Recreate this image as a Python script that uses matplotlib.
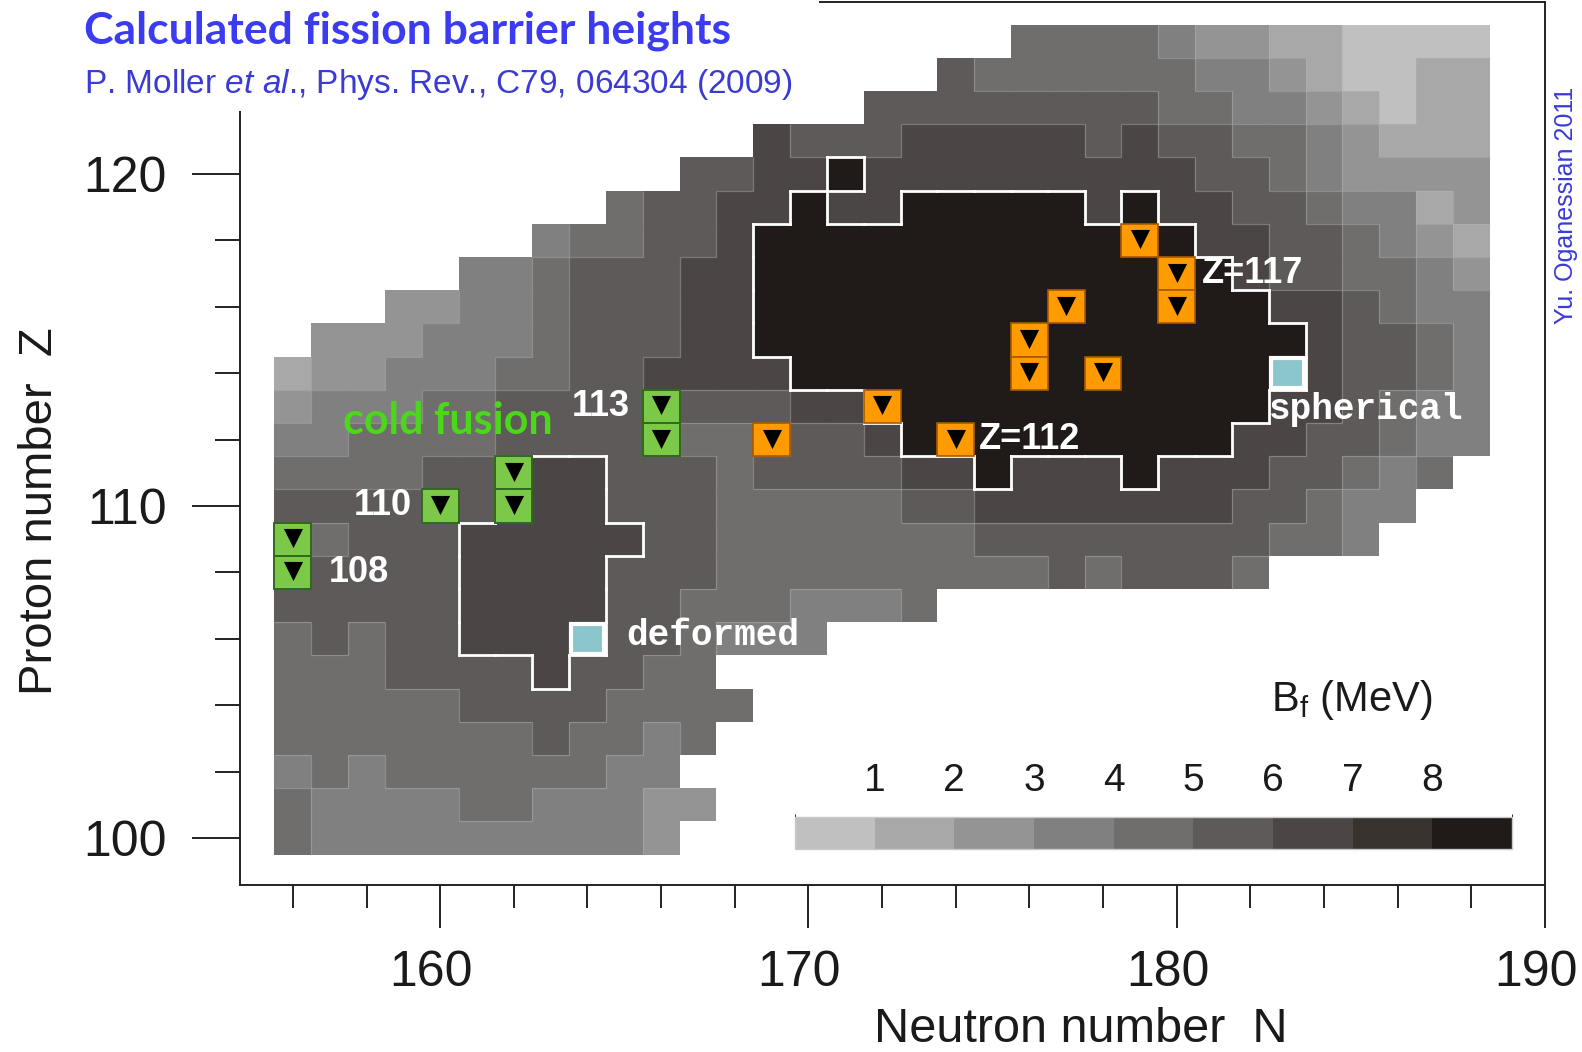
import numpy as np
import matplotlib
matplotlib.use('Agg')
import matplotlib.pyplot as plt
import matplotlib.transforms as mtransforms
from matplotlib.colors import ListedColormap, BoundaryNorm
from matplotlib.collections import LineCollection
from matplotlib.patches import Rectangle

plt.rcParams['font.family'] = ['Liberation Sans', 'DejaVu Sans']
plt.rcParams['mathtext.fontset'] = 'custom'
plt.rcParams['mathtext.rm'] = 'Liberation Sans'
plt.rcParams['mathtext.it'] = 'Liberation Sans:italic'

# grid of nuclei: N = 156..188, Z = 124 (first row) .. 100 (last row)
neutrons = np.arange(156, 189)
protons = np.arange(124, 99, -1)

# barrier height bin per nucleus: k means B_f in [k, k+1) MeV, '.' = no value
barrier_bins = [
    "...................." "4444322110000",
    ".................." "544444433210011",
    "................" "55555555443321011",
    "............." "65556666656554432111",
    "..........." "5566866666666655432222",
    "........." "455668668888868665543312",
    "......." "34455688888888888866554321",
    "....." "33455566" "8888888888888" "6554432",
    "..." "2233455566" "88888888888888" "665433",
    "." "222333455566" "888888888888888" "65543",
    "12233344556666" "88888888888888" "65543",
    "2333445555555566" "88888888888" "665433",
    "33444455555444556" "888888888" "6655433",
    "44445566655545555668666866655434" ".",
    "5555556665554444455666666655433" "..",
    "545556666655444444455555555443" "...",
    "555556666555444444444545554" "......",
    "555556666554443334" "...............",
    "454556666554333" "..................",
    "444555565544" ".....................",
    "4444455554444" "....................",
    "444444454434" ".....................",
    "34344444433" "......................",
    "433334433322" ".....................",
    "43333333332" "......................",
]

shade_colors = ['#c0c0c0', '#a8a8a8', '#949494', '#808080', '#6f6e6d',
                '#5e5a59', '#4b4645', '#38322f', '#201b19']
bar_ticks = [1, 2, 3, 4, 5, 6, 7, 8]

# measured / proposed nuclei
hot_n = [179, 180, 180, 177, 176, 176, 178, 172, 169, 174]
hot_z = [118, 117, 116, 116, 115, 114, 114, 113, 112, 112]
cold_n = [166, 166, 162, 162, 160, 156, 156]
cold_z = [113, 112, 111, 110, 110, 109, 108]
shape_n = [183, 164]
shape_z = [114, 106]

bins = np.full((len(protons), len(neutrons)), np.nan)
for i, row in enumerate(barrier_bins):
    for j, ch in enumerate(row):
        if ch != '.':
            bins[i, j] = int(ch)
bf = bins + 0.5

fig = plt.figure(figsize=(15.82, 10.52), dpi=100)
ax = fig.add_axes([240 / 1582, 1 - 885 / 1052, 1305 / 1582, 883.5 / 1052])

cmap = ListedColormap(shade_colors)
norm = BoundaryNorm(np.arange(0, 10), cmap.N)
n_edges = np.append(neutrons - 0.5, neutrons[-1] + 0.5)
z_edges = np.append(protons[::-1] - 0.5, protons[0] + 0.5)
mesh = ax.pcolormesh(n_edges, z_edges, bf[::-1], cmap=cmap, norm=norm)

# thin light lines where the shade changes, white outline around
# the deep-barrier island and the deformed island
NN, ZZ = np.meshgrid(neutrons, protons)
island = (bins == 8) | ((bins == 6) & (NN <= 165) & (ZZ <= 111))
valid = ~np.isnan(bins)

grey_segs, white_segs = [], []
rows, cols = bins.shape
for i in range(rows):
    for j in range(cols):
        n, z = neutrons[j], protons[i]
        if j + 1 < cols and valid[i, j] and valid[i, j + 1] and bins[i, j] != bins[i, j + 1]:
            grey_segs.append([(n + 0.5, z - 0.5), (n + 0.5, z + 0.5)])
        if i + 1 < rows and valid[i, j] and valid[i + 1, j] and bins[i, j] != bins[i + 1, j]:
            grey_segs.append([(n - 0.5, z - 0.5), (n + 0.5, z - 0.5)])
        if not island[i, j]:
            continue
        if j == 0 or not island[i, j - 1]:
            white_segs.append([(n - 0.5, z - 0.5), (n - 0.5, z + 0.5)])
        if j == cols - 1 or not island[i, j + 1]:
            white_segs.append([(n + 0.5, z - 0.5), (n + 0.5, z + 0.5)])
        if i == 0 or not island[i - 1, j]:
            white_segs.append([(n - 0.5, z + 0.5), (n + 0.5, z + 0.5)])
        if i == rows - 1 or not island[i + 1, j]:
            white_segs.append([(n - 0.5, z - 0.5), (n + 0.5, z - 0.5)])

ax.add_collection(LineCollection(grey_segs, colors='#b4b4b4', linewidths=0.9,
                                 alpha=0.45, zorder=2))
ax.add_collection(LineCollection(white_segs, colors='white', linewidths=2.0,
                                 zorder=3, capstyle='projecting'))

for n, z in zip(hot_n, hot_z):
    ax.add_patch(Rectangle((n - 0.5, z - 0.5), 1, 1, fc='#ff9a00', ec='#a85a00',
                           lw=1.2, zorder=4))
for n, z in zip(cold_n, cold_z):
    ax.add_patch(Rectangle((n - 0.5, z - 0.5), 1, 1, fc='#7cc94a', ec='#2f6a1c',
                           lw=1.4, zorder=4))
ax.scatter(hot_n + cold_n, np.array(hot_z + cold_z) + 0.03, marker='v', s=190,
           c='black', zorder=5, linewidths=0)
for n, z in zip(shape_n, shape_z):
    ax.add_patch(Rectangle((n - 0.45, z - 0.45), 0.9, 0.9, fc='#8ac6cc', ec='white',
                           lw=3.0, zorder=4))

white_bold = dict(color='white', fontweight='bold', fontsize=26, ha='center',
                  va='center', zorder=6)
ax.text(164.35, 113.0, '113', **white_bold)
ax.text(158.45, 110.0, '110', **white_bold)
ax.text(157.8, 108.0, '108', **white_bold)
ax.text(182.05, 117.0, 'Z=117', **white_bold)
ax.text(176.0, 112.0, 'Z=112', **white_bold)
ax.text(160.2, 112.55, 'cold fusion', color='#4cd81a', fontweight='bold',
        fontsize=31, family='Lato', ha='center', va='center', zorder=6)
mono = dict(color='white', fontweight='bold', fontsize=26, family='Liberation Mono',
            ha='center', va='center', zorder=6)
ax.text(185.15, 112.9, 'spherical', **mono)
ax.text(167.4, 106.1, 'deformed', **mono)
ax.text(184.76, 104.15, r'B$_\mathregular{f}$ (MeV)', fontsize=30, ha='center',
        va='center', color='#1a1a1a')

ax.set_xlim(154.565, 190)
ax.set_ylim(98.584, 125.196)

ax.set_xticks([160, 170, 180, 190])
ax.set_xticks([n for n in range(156, 190, 2) if n % 10], minor=True)
ax.set_yticks([100, 110, 120])
ax.set_yticks(range(102, 120, 2), minor=True)
ax.tick_params(axis='both', which='major', direction='out', width=1.4,
               labelsize=36, color='#222222', labelcolor='#1a1a1a')
ax.tick_params(axis='x', which='major', length=31, pad=16)
ax.tick_params(axis='y', which='major', length=34.5, pad=18)
ax.tick_params(axis='x', which='minor', direction='out', length=16.5, width=1.4,
               color='#222222')
ax.tick_params(axis='y', which='minor', direction='out', length=18, width=1.4,
               color='#222222')
for side in ax.spines.values():
    side.set_linewidth(1.4)
    side.set_color('#222222')

# x tick numbers sit a little left of their ticks
shift = mtransforms.ScaledTranslation(-0.09, 0, fig.dpi_scale_trans)
for tick in ax.xaxis.get_major_ticks():
    tick.label1.set_transform(tick.label1.get_transform() + shift)

ax.set_xlabel('Neutron number  N', fontsize=35, va='center', color='#1a1a1a')
ax.xaxis.set_label_coords(0.644, -0.163)
ax.set_ylabel('Proton number  Z', fontsize=34, va='center', color='#1a1a1a')
ax.yaxis.set_label_coords(-0.153, 0.423)

# barrier-height scale
cax = fig.add_axes([795 / 1582, 1 - 849 / 1052, 717 / 1582, 32 / 1052])
cb = fig.colorbar(mesh, cax=cax, orientation='horizontal', ticks=bar_ticks)
cax.xaxis.set_ticks_position('top')
cax.tick_params(length=0, labelsize=28, pad=13, labelcolor='#1a1a1a')
cb.outline.set_edgecolor('#c8c8c8')
cb.outline.set_linewidth(1.0)

# header block over the upper left corner of the frame
fig.add_artist(Rectangle((0, 1 - 111 / 1052), 819 / 1582, 111 / 1052,
                         transform=fig.transFigure, fc='white', ec='none', zorder=5))
fig.text(84 / 1582, 1 - 31 / 1052, 'Calculated fission barrier heights',
         family='Lato', fontweight='bold', fontsize=32, color='#3b3bf2',
         ha='left', va='center', zorder=6)
fig.text(84 / 1582, 1 - 85 / 1052,
         r'P. Moller $\mathit{et\ al}$., Phys. Rev., C79, 064304 (2009)',
         fontsize=24, color='#3a3ad4', ha='left', va='center', zorder=6)
fig.text(1554 / 1582, 1 - 205 / 1052, 'Yu. Oganessian 2011', rotation=90,
         fontsize=18, color='#3a3ad8', ha='left', va='center')

fig.savefig('out.png', dpi=100, facecolor='white')
